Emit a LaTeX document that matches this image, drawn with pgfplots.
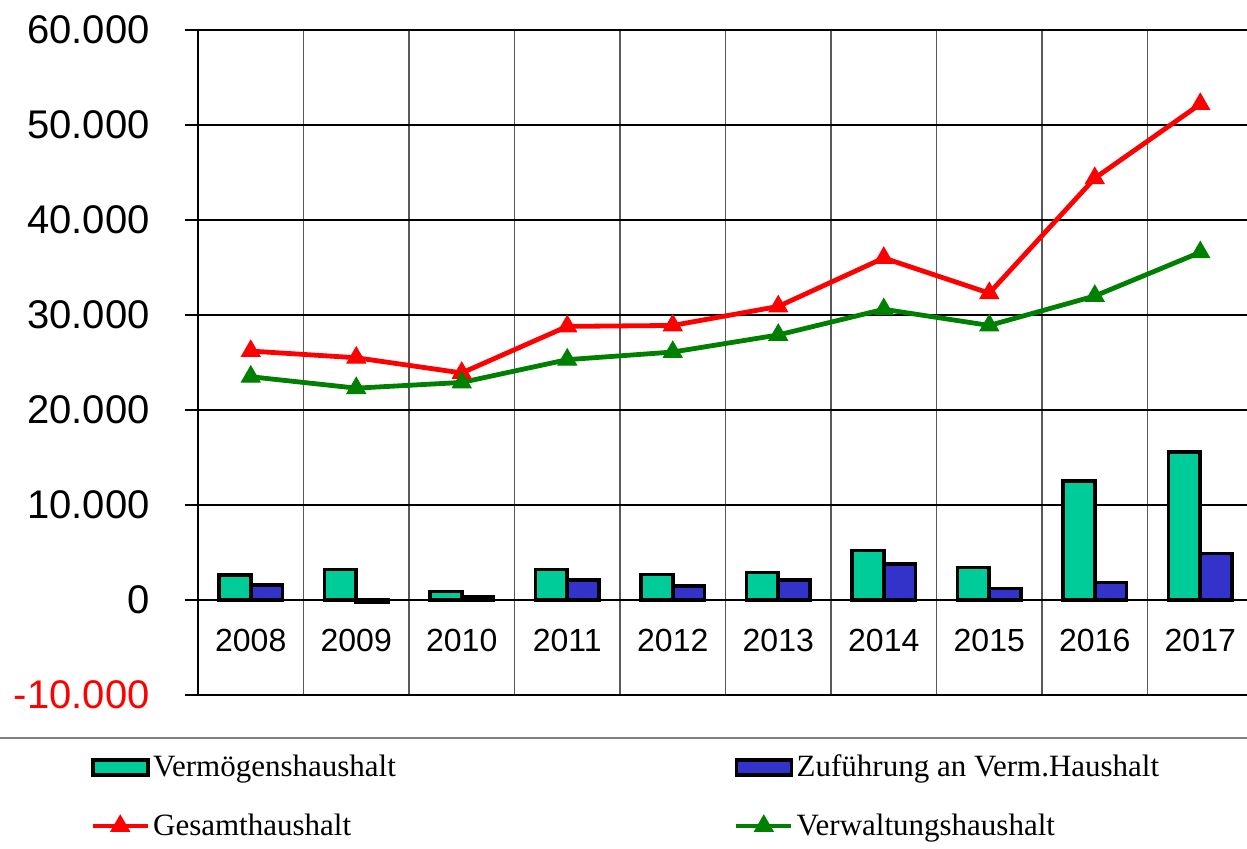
\documentclass[border=0pt]{standalone}
\usepackage{pgfplots}
\pgfplotsset{compat=1.18}
\usepackage{fontspec}
\setmainfont{Liberation Serif}
\newfontfamily\arial{Liberation Sans}
\definecolor{cteal}{RGB}{0,204,153}
\definecolor{cblue}{RGB}{51,51,204}
\definecolor{cred}{RGB}{255,0,0}
\definecolor{cgreen}{RGB}{0,128,0}
\pgfplotsset{
  barlegend/.style={legend image code/.code={\draw[##1] (0pt,-3.8pt) rectangle (27.5pt,3.8pt);}},
  linelegend/.style={legend image code/.code={\draw[mark repeat=2,mark phase=2,##1] plot coordinates {(0pt,0pt) (13.75pt,0pt) (27.5pt,0pt)};}},
}
\begin{document}
\begin{tikzpicture}
\begin{axis}[
  at={(0pt,0pt)}, anchor=south west,
  scale only axis, width=524.5pt, height=332.5pt,
  xmin=-0.5, xmax=9.443, ymin=-10000, ymax=60000,
  scaled y ticks=false,
  axis x line*=middle, axis y line*=left,
  hide obscured x ticks=false, hide obscured y ticks=false,
  axis line style={black, line width=0.6pt},
  xtick={0,1,2,3,4,5,6,7,8,9},
  xticklabels={2008,2009,2010,2011,2012,2013,2014,2015,2016,2017},
  minor xtick={-0.5,0.5,1.5,2.5,3.5,4.5,5.5,6.5,7.5,8.5,9.5},
  ytick={-10000,0,10000,20000,30000,40000,50000,60000},
  yticklabels={{\textcolor{red}{-10.000}},0,10.000,20.000,30.000,40.000,50.000,60.000},
  xminorgrids=true, ymajorgrids=true, xmajorgrids=false,
  tick align=outside, major tick length=6.5pt, minor tick length=0pt,
  xtick style={draw=none},
  ytick style={black, line width=0.6pt},
  yticklabel style={font=\arial\fontsize{20}{24}\selectfont, anchor=east, inner sep=0pt, xshift=-17.5pt},
  xticklabel style={font=\arial\fontsize{16}{19}\selectfont, anchor=north, inner sep=0pt, yshift=-8pt},
  major grid style={black, line width=0.6pt},
  minor grid style={black!65, line width=0.7pt},
  legend columns=2,
  legend cell align=left,
  legend style={at={(-0.103,-0.085)}, anchor=north west, draw=none, fill=none,
    inner sep=0pt, row sep=14pt,
    font=\fontsize{15.5}{18}\selectfont,
    nodes={inner sep=1.5pt},
    /tikz/every even column/.append style={column sep=167.5pt}},
]
\addplot[ybar, bar width=0.3, bar shift=-0.15, fill=cteal, draw=black, line width=1.8pt, barlegend]
  coordinates {(0,2600) (1,3200) (2,900) (3,3200) (4,2700) (5,2900) (6,5200) (7,3400) (8,12500) (9,15600)};
\addlegendentry{Vermögenshaushalt}
\addplot[ybar, bar width=0.3, bar shift=0.15, fill=cblue, draw=black, line width=1.8pt, barlegend]
  coordinates {(0,1600) (1,-200) (2,350) (3,2100) (4,1500) (5,2100) (6,3800) (7,1200) (8,1850) (9,4900)};
\addlegendentry{Zuführung an Verm.Haushalt}
\addplot[cred, line width=2.4pt, mark=triangle*, mark size=5.4pt, mark options={solid, fill=cred, draw=cred, line width=0.5pt}, linelegend]
  coordinates {(0,26200) (1,25500) (2,23900) (3,28800) (4,28900) (5,30900) (6,36000) (7,32300) (8,44400) (9,52200)};
\addlegendentry{Gesamthaushalt}
\addplot[cgreen, line width=2.4pt, mark=triangle*, mark size=5.4pt, mark options={solid, fill=cgreen, draw=cgreen, line width=0.5pt}, linelegend]
  coordinates {(0,23500) (1,22300) (2,22900) (3,25300) (4,26100) (5,27900) (6,30600) (7,28900) (8,32000) (9,36600)};
\addlegendentry{Verwaltungshaushalt}
\end{axis}
\draw[black!50, line width=0.75pt] (-99pt,-21.5pt) -- (524.5pt,-21.5pt);
\pgfresetboundingbox
\path[use as bounding box] (-99pt,-77pt) rectangle (524.5pt,347.5pt);
\end{tikzpicture}
\end{document}
